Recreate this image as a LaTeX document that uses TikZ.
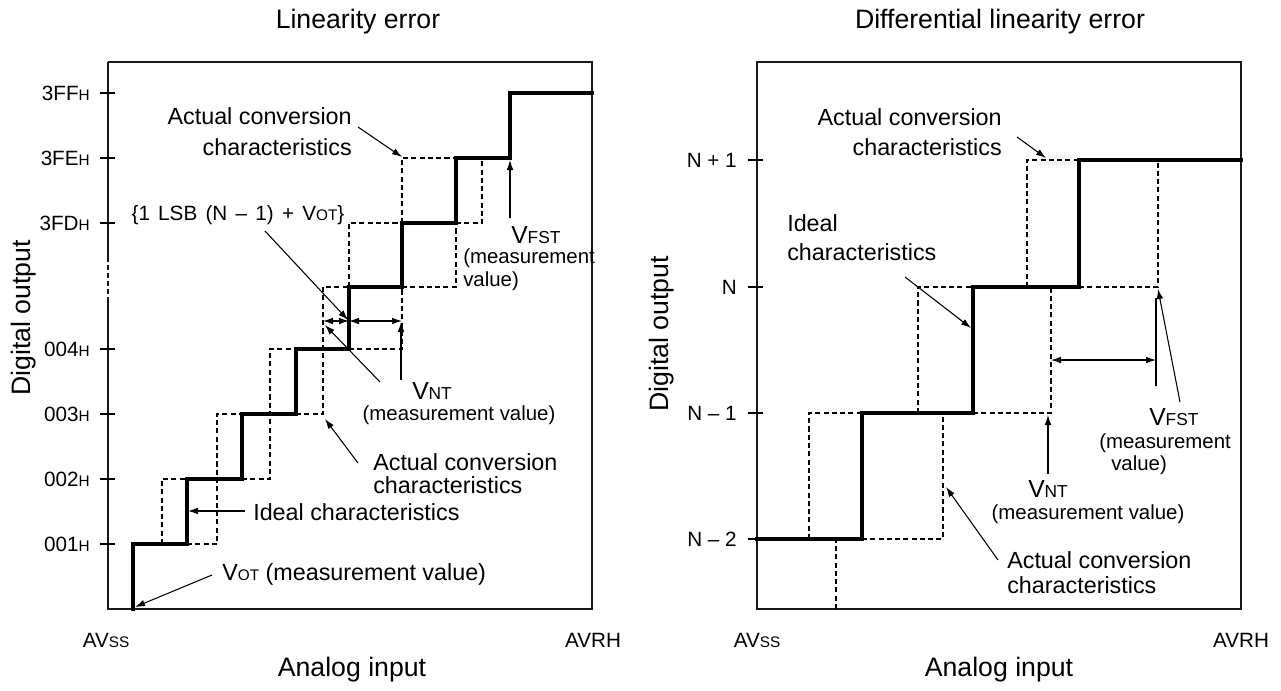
\documentclass[tikz,border=0pt]{standalone}
\usepackage{fontspec}
\setmainfont{Liberation Sans}
\usetikzlibrary{arrows.meta}
\newcommand{\fMain}{\fontsize{17.5}{20}\selectfont}
\newcommand{\fMeas}{\fontsize{15.3}{18}\selectfont}
\newcommand{\fTick}{\fontsize{15.5}{18}\selectfont}
\newcommand{\fTitle}{\fontsize{20}{24}\selectfont}
\newcommand{\fBigV}{\fontsize{18.5}{20}\selectfont}
\newcommand{\sml}[1]{{\fontsize{11.5}{13}\selectfont #1}}
\newcommand{\smlb}[1]{{\fontsize{13}{14}\selectfont #1}}
\begin{document}
\begin{tikzpicture}[x=0.75pt,y=-0.75pt,
  frame/.style={line width=0.95pt, draw=black!90},
  ideal/.style={line width=2.3pt, line join=miter, line cap=rect},
  actual/.style={line width=0.8pt, dash pattern=on 3.8pt off 2.4pt},
  ptr/.style={line width=0.8pt, -{Latex[length=7.5pt,width=5pt]}},
  dimarrow/.style={line width=0.8pt, {Latex[length=7.5pt,width=5pt]}-{Latex[length=7.5pt,width=5pt]}},
  plain/.style={line width=0.8pt},
  tick/.style={line width=0.95pt},
  lbl/.style={inner sep=0pt, font=\fMain},
  meas/.style={inner sep=0pt, font=\fMeas},
  ticklbl/.style={inner sep=0pt, font=\fTick, anchor=east},
  title/.style={inner sep=0pt, font=\fTitle}
]
\useasboundingbox (0,0) rectangle (1281,690);

%================ LEFT PLOT ================
\node[title] (t1) at (358,22) {Linearity error};
\node[title, rotate=90] (yl1) at (24,318) {Digital output};
\node[title] (xl1) at (352,670) {Analog input};
\node[inner sep=0pt, font=\fTick] (avss1) at (106,640) {AV\sml{SS}};
\node[inner sep=0pt, font=\fTick] (avrh1) at (593,640) {AVRH};

% frame
\draw[frame] (108,62) -- (592,62) -- (592,609) -- (108,609) -- (108,302);
\draw[frame, dash pattern=on 3.5pt off 2.5pt] (108,302) -- (108,262);
\draw[frame] (108,262) -- (108,62);

% ticks and labels
\foreach \yy/\tx/\nm in {93/3FF/a,158/3FE/b,223/3FD/c,349/004/d,414/003/e,479/002/f,544/001/g}{
  \draw[tick] (100,\yy) -- (115,\yy);
  \node[ticklbl] (tl\nm) at (90,\yy) {\tx\sml{H}};
}

% actual (dashed)
\draw[actual] (162,544) -- (162,479) -- (187,479);
\draw[actual] (187,544) -- (217,544) -- (217,414) -- (242,414);
\draw[actual] (242,479) -- (270,479) -- (270,349) -- (296,349);
\draw[actual] (296,414) -- (323,414) -- (323,287) -- (349,287);
\draw[actual] (349,287) -- (349,223) -- (402,223);
\draw[actual] (349,349) -- (402,349) -- (402,287);
\draw[actual] (402,223) -- (402,158) -- (456,158);
\draw[actual] (402,287) -- (456,287) -- (456,223);
\draw[actual] (456,223) -- (482,223) -- (482,158);

% ideal (thick)
\draw[ideal] (133,609) -- (133,544) -- (187,544) -- (187,479) -- (242,479) -- (242,414)
  -- (296,414) -- (296,349) -- (349,349) -- (349,287) -- (402,287) -- (402,223)
  -- (456,223) -- (456,158) -- (510,158) -- (510,93) -- (592,93);

% labels
\node[lbl, anchor=east] (ac1a) at (352,116) {Actual conversion};
\node[lbl, anchor=east] (ac1b) at (352,147) {characteristics};
\node[inner sep=0pt, font={\fontsize{15.5}{17}\selectfont\spaceskip=0.4em}] (lsb) at (238,215) {\{1 LSB (N – 1) + V\sml{OT}\}};
\node[inner sep=0pt, anchor=base west, font=\fBigV] (vfst1) at (511,243) {V\smlb{FST}};
\node[meas, anchor=west] (vfst1a) at (463,258) {(measurement};
\node[meas, anchor=west] (vfst1b) at (463,281) {value)};
\node[inner sep=0pt, anchor=base west, font=\fBigV] (vnt1) at (412,399) {V\smlb{NT}};
\node[meas] (vnt1a) at (459,415) {(measurement value)};
\node[lbl, anchor=west] (ac2a) at (373,462) {Actual conversion};
\node[lbl, anchor=west] (ac2b) at (373,485) {characteristics};
\node[lbl, anchor=west] (id1) at (253,512) {Ideal characteristics};
\node[lbl, anchor=west] (vot1) at (222,574) {V\sml{OT} (measurement value)};

% arrow coordinates
\coordinate (p1s) at (358,127); \coordinate (p1e) at (402,157);
\coordinate (p2s) at (265,231); \coordinate (p2e) at (348,320);
\coordinate (d1a) at (323,321); \coordinate (d1b) at (349,321); \coordinate (d1c) at (402,321);
\coordinate (p4s) at (401,380); \coordinate (p4e) at (401,322);
\coordinate (p5s) at (380,382); \coordinate (p5e) at (325,325);
\coordinate (p6s) at (358,463); \coordinate (p6e) at (325,419);
\coordinate (p7s) at (245,511); \coordinate (p7e) at (188,511);
\coordinate (p8s) at (212,575); \coordinate (p8e) at (135,607);
\coordinate (p9s) at (510,218); \coordinate (p9e) at (510,160);

\draw[ptr] (p1s) -- (p1e);
\draw[ptr] (p2s) -- (p2e);
\draw[dimarrow] (d1a) -- (d1b);
\draw[dimarrow] (d1b) -- (d1c);
\draw[ptr] (p4s) -- (p4e);
\draw[ptr] (p5s) -- (p5e);
\draw[ptr] (p6s) -- (p6e);
\draw[ptr] (p7s) -- (p7e);
\draw[ptr] (p8s) -- (p8e);
\draw[ptr] (p9s) -- (p9e);

%================ RIGHT PLOT ================
\node[title] (t2) at (1000,22) {Differential linearity error};
\node[title, rotate=90] (yl2) at (662,334) {Digital output};
\node[title] (xl2) at (999,670) {Analog input};
\node[inner sep=0pt, font=\fTick] (avss2) at (757,640) {AV\sml{SS}};
\node[inner sep=0pt, font=\fTick] (avrh2) at (1241,640) {AVRH};

\draw[frame] (757,62) rectangle (1241,609);

\foreach \yy/\tx/\nm in {160/N + 1/a,287/N/b,413/N – 1/c,539/N – 2/d}{
  \draw[tick] (748,\yy) -- (763,\yy);
  \node[ticklbl] (tr\nm) at (737,\yy) {\tx};
}

% actual (dashed)
\draw[actual] (809,539) -- (809,413) -- (862,413);
\draw[actual] (836,609) -- (836,539);
\draw[actual] (862,539) -- (943,539) -- (943,413);
\draw[actual] (918,413) -- (918,287) -- (973,287);
\draw[actual] (973,413) -- (1051,413) -- (1051,287);
\draw[actual] (1027,287) -- (1027,160) -- (1079,160);
\draw[actual] (1079,287) -- (1158,287) -- (1158,160);

% ideal (thick)
\draw[ideal] (757,539) -- (862,539) -- (862,413) -- (973,413) -- (973,287)
  -- (1079,287) -- (1079,160) -- (1241,160);

% labels
\node[lbl, anchor=east] (ac3a) at (1002,117) {Actual conversion};
\node[lbl, anchor=east] (ac3b) at (1002,147) {characteristics};
\node[lbl, anchor=west] (id2a) at (787,223) {Ideal};
\node[lbl, anchor=west] (id2b) at (787,252) {characteristics};
\node[inner sep=0pt, anchor=base west, font=\fBigV] (vfst2) at (1149,425) {V\smlb{FST}};
\node[meas, anchor=west] (vfst2a) at (1099,443) {(measurement};
\node[meas, anchor=west] (vfst2b) at (1111,465) {value)};
\node[inner sep=0pt, anchor=base west, font=\fBigV] (vnt2) at (1028,497) {V\smlb{NT}};
\node[meas] (vnt2a) at (1088,514) {(measurement value)};
\node[lbl, anchor=west] (ac4a) at (1007,560) {Actual conversion};
\node[lbl, anchor=west] (ac4b) at (1007,585) {characteristics};

\coordinate (q1s) at (1017,137); \coordinate (q1e) at (1046,158);
\coordinate (q2s) at (905,277); \coordinate (q2e) at (971,328);
\coordinate (e1a) at (1051,360); \coordinate (e1b) at (1156,360);
\coordinate (q4s) at (1156,386); \coordinate (q4e) at (1156,298);
\coordinate (q5s) at (1180,402); \coordinate (q5e) at (1158,289);
\coordinate (q6s) at (1048,474); \coordinate (q6e) at (1048,415);
\coordinate (q7s) at (998,560); \coordinate (q7e) at (946,487);

\draw[ptr] (q1s) -- (q1e);
\draw[ptr] (q2s) -- (q2e);
\draw[dimarrow] (e1a) -- (e1b);
\draw[plain] (q4s) -- (q4e);
\draw[ptr] (q5s) -- (q5e);
\draw[ptr] (q6s) -- (q6e);
\draw[ptr] (q7s) -- (q7e);
\end{tikzpicture}
\end{document}
